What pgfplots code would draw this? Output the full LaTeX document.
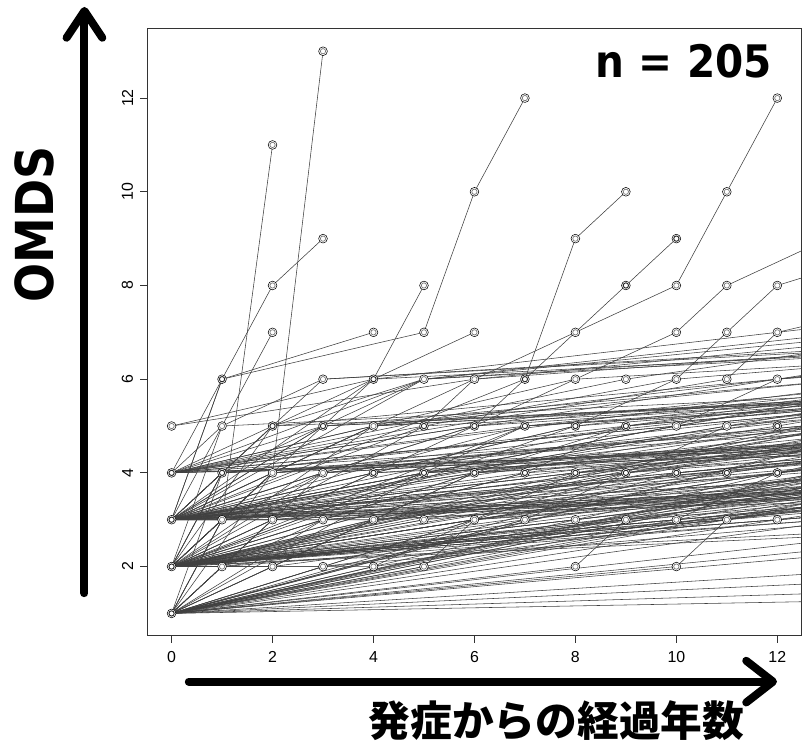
\documentclass[border=0pt]{standalone}
\usepackage{fontspec}
\setmainfont{Liberation Sans}
\newfontfamily\dvs{DejaVu Sans}
\newfontfamily\cjk{Noto Sans CJK JP}
\usepackage{graphicx}
\usepackage{pgfplots}
\pgfplotsset{compat=1.18}
\newcommand{\sj}[1]{\addplot[ln] coordinates {#1};}
\begin{document}
\begin{tikzpicture}
\begin{scope}[x=0.75pt,y=-0.75pt,shift={(-111.225pt,480pt)}]
\useasboundingbox (0,0) rectangle (802,747);
\end{scope}
\begin{axis}[
  at={(0,0)}, anchor=south west,
  scale only axis, width=493.8pt, height=458.3pt,
  xmin=-0.48, xmax=12.48, ymin=0.52, ymax=13.48,
  xtick={0,2,...,12}, ytick={2,4,...,12},
  tick align=outside, xtick pos=left, ytick pos=left,
  major tick length=5.25pt,
  axis line style={black!80, line width=0.7pt},
  every tick/.style={black!80, line width=0.6pt},
  ticklabel style={font=\fontsize{12}{14}\selectfont, text=black},
  /pgf/number format/assume math mode=true,
  yticklabel style={rotate=90, anchor=south},
  yticklabel shift=2pt, xticklabel shift=3pt,
  ln/.style={black!75, line width=0.42pt},
]
% ---- subjects starting at OMDS 1
\sj{(0,1)(50,2)}\sj{(0,1)(30,2)}\sj{(0,1)(20,2)}\sj{(0,1)(15,2)}\sj{(0,1)(21,3)}
\sj{(0,1)(19,3)}\sj{(0,1)(25,4)}\sj{(0,1)(20,4)}\sj{(0,1)(24,5)}\sj{(0,1)(16,4)}
\sj{(0,1)(22,6)}\sj{(0,1)(18,5)}\sj{(0,1)(28,7)}\sj{(0,1)(14,4)}\sj{(0,1)(20,6)}
\sj{(0,1)(25,8)}\sj{(0,1)(15,4)}\sj{(0,1)(18,6)}\sj{(0,1)(13,4)}\sj{(0,1)(22,5)}
\sj{(0,1)(17,5)}\sj{(0,1)(30,8)}\sj{(0,1)(26,6)}
\sj{(0,1)(1,2)(16,4)}\sj{(0,1)(1,3)(20,5)}\sj{(0,1)(1,4)(15,5)}\sj{(0,1)(2,3)(22,5)}
\sj{(0,1)(2,4)(19,6)}\sj{(0,1)(3,3)(25,5)}\sj{(0,1)(3,4)(20,6)}\sj{(0,1)(4,3)(24,4)}
\sj{(0,1)(5,4)(21,6)}\sj{(0,1)(6,3)(17,4)}\sj{(0,1)(10,4)(20,5)}\sj{(0,1)(10,2)(11,3)(20,5)}
\sj{(0,1)(8,2)(9,3)(22,5)}\sj{(0,1)(5,2)(6,3)(20,5)}\sj{(0,1)(4,2)(18,4)}\sj{(0,1)(3,2)(25,4)}
\sj{(0,1)(2,2)(6,4)(20,5)}\sj{(0,1)(1,2)(4,3)(24,5)}\sj{(0,1)(7,3)(23,5)}\sj{(0,1)(9,4)(22,6)}
\sj{(0,1)(1,3)(3,4)(18,5)}\sj{(0,1)(2,3)(5,4)(21,5)}
\sj{(0,1)(1,3)(2,4)(20,5)}\sj{(0,1)(4,3)(6,4)(23,5)}\sj{(0,1)(7,3)(9,4)(21,5)}
% ---- subjects starting at OMDS 2
\sj{(0,2)(20,3)}\sj{(0,2)(18,3)}\sj{(0,2)(20,4)}\sj{(0,2)(22,4)}\sj{(0,2)(18,4)}
\sj{(0,2)(26,5)}\sj{(0,2)(20,5)}\sj{(0,2)(15,4)}\sj{(0,2)(24,6)}\sj{(0,2)(16,5)}
\sj{(0,2)(30,7)}\sj{(0,2)(19,6)}\sj{(0,2)(22,7)}\sj{(0,2)(17,6)}\sj{(0,2)(25,8)}
\sj{(0,2)(24,5)}\sj{(0,2)(28,5)}\sj{(0,2)(32,5)}\sj{(0,2)(16,4)}\sj{(0,2)(14,4)}
\sj{(0,2)(36,5)}\sj{(0,2)(21,4)}\sj{(0,2)(30,5)}\sj{(0,2)(26,4)}\sj{(0,2)(24,4)}
\sj{(0,2)(1,3)(20,4)}\sj{(0,2)(1,3)(16,5)}\sj{(0,2)(1,4)(22,5)}\sj{(0,2)(1,4)(18,6)}
\sj{(0,2)(1,5)(3,6)(19,7)}\sj{(0,2)(2,3)(21,4)}\sj{(0,2)(2,4)(24,6)}\sj{(0,2)(2,4)(3,13)}
\sj{(0,2)(1,3)(2,11)}\sj{(0,2)(2,5)(5,6)(20,7)}\sj{(0,2)(3,3)(17,4)}\sj{(0,2)(3,4)(22,6)}
\sj{(0,2)(3,5)(4,6)(5,8)}\sj{(0,2)(4,3)(20,5)}\sj{(0,2)(4,4)(18,5)}\sj{(0,2)(4,5)(23,7)}
\sj{(0,2)(5,3)(26,5)}\sj{(0,2)(5,4)(19,5)}\sj{(0,2)(5,5)(21,6)}\sj{(0,2)(6,3)(20,4)}
\sj{(0,2)(6,4)(24,6)}\sj{(0,2)(6,5)(7,6)(8,9)(9,10)}\sj{(0,2)(7,4)(20,6)}\sj{(0,2)(7,5)(22,6)}
\sj{(0,2)(8,3)(23,5)}\sj{(0,2)(8,4)(18,5)}\sj{(0,2)(8,5)(24,7)}\sj{(0,2)(9,4)(19,6)}
\sj{(0,2)(9,5)(20,6)}\sj{(0,2)(10,3)(22,4)}\sj{(0,2)(10,4)(21,5)}\sj{(0,2)(11,4)(25,6)}
\sj{(0,2)(12,4)(20,5)}\sj{(0,2)(12,3)(24,4)}\sj{(0,2)(2,2)(16,4)}\sj{(0,2)(1,2)(3,3)(20,4)}
\sj{(0,2)(9,3)(22,4)}\sj{(0,2)(11,3)(23,5)}\sj{(0,2)(1,2)(25,4)}\sj{(0,2)(3,2)(18,4)}
\sj{(0,2)(4,2)(6,3)(22,5)}
\sj{(0,2)(1,4)(3,5)(22,6)}\sj{(0,2)(2,4)(4,5)(21,6)}\sj{(0,2)(5,4)(7,5)(23,6)}
\sj{(0,2)(7,4)(9,5)(20,6)}\sj{(0,2)(9,4)(11,5)(22,6)}\sj{(0,2)(6,3)(8,4)(24,5)}
\sj{(0,2)(10,3)(12,4)(22,5)}\sj{(0,2)(11,3)(19,4)}
% ---- subjects starting at OMDS 3
\sj{(0,3)(28,4)}\sj{(0,3)(22,4)}\sj{(0,3)(18,4)}\sj{(0,3)(25,5)}\sj{(0,3)(20,5)}
\sj{(0,3)(16,5)}\sj{(0,3)(24,6)}\sj{(0,3)(19,6)}\sj{(0,3)(30,7)}\sj{(0,3)(22,7)}
\sj{(0,3)(17,6)}\sj{(0,3)(25,8)}
\sj{(0,3)(1,4)(20,5)}\sj{(0,3)(1,4)(17,6)}\sj{(0,3)(1,5)(2,7)}\sj{(0,3)(1,6)(2,8)(3,9)}
\sj{(0,3)(1,6)(4,7)}\sj{(0,3)(2,4)(23,6)}\sj{(0,3)(2,5)(4,6)(22,7)}\sj{(0,3)(3,4)(19,5)}
\sj{(0,3)(3,5)(21,6)}\sj{(0,3)(4,4)(24,5)}\sj{(0,3)(4,5)(20,6)}\sj{(0,3)(4,6)(6,7)}
\sj{(0,3)(5,4)(18,5)}\sj{(0,3)(5,5)(6,6)(8,7)(10,8)(11,10)(12,12)}\sj{(0,3)(6,4)(22,6)}
\sj{(0,3)(6,5)(20,6)}\sj{(0,3)(7,4)(21,5)}\sj{(0,3)(7,5)(25,7)}\sj{(0,3)(8,4)(19,6)}
\sj{(0,3)(8,5)(20,6)}\sj{(0,3)(9,4)(24,6)}\sj{(0,3)(9,5)(22,7)}\sj{(0,3)(10,4)(20,5)}
\sj{(0,3)(10,5)(21,7)}\sj{(0,3)(11,5)(19,6)}\sj{(0,3)(12,5)(23,7)}\sj{(0,3)(1,3)(22,5)}
\sj{(0,3)(2,3)(20,4)}\sj{(0,3)(6,6)(19,7)}\sj{(0,3)(5,6)(24,8)}\sj{(0,3)(7,6)(8,7)(9,8)(10,9)}
\sj{(0,3)(3,6)(20,7)}\sj{(0,3)(11,4)(25,6)}
\sj{(0,3)(35,4)}\sj{(0,3)(26,4)}\sj{(0,3)(20,4)}\sj{(0,3)(15,4)}\sj{(0,3)(40,5)}
\sj{(0,3)(30,5)}\sj{(0,3)(32,6)}\sj{(0,3)(27,6)}\sj{(0,3)(21,5)}
\sj{(0,3)(2,5)(24,6)}\sj{(0,3)(3,5)(5,6)(22,7)}\sj{(0,3)(6,5)(8,6)(24,7)}
\sj{(0,3)(8,5)(10,6)(21,7)}\sj{(0,3)(10,5)(12,6)(25,7)}\sj{(0,3)(4,3)(22,4)}
% ---- subjects starting at OMDS 4 and 5
\sj{(0,4)(25,5)}\sj{(0,4)(20,6)}\sj{(0,4)(30,7)}\sj{(0,4)(22,7)}
\sj{(0,4)(1,6)(5,7)(6,10)(7,12)}\sj{(0,4)(1,5)(20,6)}\sj{(0,4)(2,5)(22,7)}\sj{(0,4)(3,5)(24,7)}
\sj{(0,4)(4,5)(20,7)}\sj{(0,4)(5,6)(22,8)}\sj{(0,4)(6,5)(25,7)}\sj{(0,4)(7,5)(20,6)}
\sj{(0,4)(8,6)(10,7)(11,8)(15,10)}\sj{(0,4)(9,6)(22,8)}\sj{(0,4)(10,6)(11,7)(12,8)(18,10)}
\sj{(0,4)(11,6)(12,7)(20,9)}\sj{(0,4)(12,6)(24,8)}
\sj{(0,4)(35,5)}\sj{(0,4)(28,6)}\sj{(0,4)(26,5)}
\sj{(0,5)(4,6)(20,8)}\sj{(0,5)(6,6)(25,8)}
% ---- observation circles
\addplot[only marks, mark=*, mark size=3.3pt, mark options={draw=none, fill=white}] coordinates {
(0,1)(0,2)(0,3)(0,4)(0,5)
(1,2)(1,3)(1,4)(1,5)(1,6)
(2,2)(2,3)(2,4)(2,5)(2,7)(2,8)(2,11)
(3,2)(3,3)(3,4)(3,5)(3,6)(3,9)(3,13)
(4,2)(4,3)(4,4)(4,5)(4,6)(4,7)
(5,2)(5,3)(5,4)(5,5)(5,6)(5,7)(5,8)
(6,3)(6,4)(6,5)(6,6)(6,7)(6,10)
(7,3)(7,4)(7,5)(7,6)(7,12)
(8,2)(8,3)(8,4)(8,5)(8,6)(8,7)(8,9)
(9,3)(9,4)(9,5)(9,6)(9,8)(9,10)
(10,2)(10,3)(10,4)(10,5)(10,6)(10,7)(10,8)(10,9)
(11,3)(11,4)(11,5)(11,6)(11,7)(11,8)(11,10)
(12,3)(12,4)(12,5)(12,6)(12,7)(12,8)(12,12)};
\addplot[only marks, mark=o, mark size=2pt, mark options={draw=black!55, line width=0.5pt}] coordinates {
(0,5)
(1,2)(1,3)(1,5)
(2,2)(2,3)(2,4)(2,7)(2,8)(2,11)
(3,2)(3,3)(3,4)(3,6)(3,9)(3,13)
(4,2)(4,3)(4,5)(4,7)
(5,2)(5,3)(5,6)(5,7)(5,8)
(6,3)(6,6)(6,7)(6,10)
(7,3)(7,12)
(8,2)(8,3)(8,6)(8,7)(8,9)
(9,3)(9,6)(9,10)
(10,2)(10,3)(10,5)(10,6)(10,7)(10,8)
(11,3)(11,5)(11,6)(11,7)(11,8)(11,10)
(12,3)(12,6)(12,7)(12,8)(12,12)};
\addplot[only marks, mark=o, mark size=2pt, mark options={draw=black!85, line width=0.7pt}] coordinates {
(0,1)(0,2)(0,3)(0,4)(1,4)(1,6)(2,5)(3,5)(4,4)(4,6)(5,5)(6,5)(7,5)(7,6)
(8,5)(9,5)(9,8)(10,9)(12,5)(7,4)(8,4)(10,4)(11,4)(12,4)(5,4)(6,4)(9,4)};
\end{axis}
\begin{scope}[x=0.75pt,y=-0.75pt,shift={(-111.225pt,480pt)}]
\draw[line width=6pt, line cap=round, line join=round] (85,597) -- (85,12);
\draw[line width=6pt, line cap=round, line join=round] (67,38) -- (85,11) -- (103,38);
\draw[line width=6pt, line cap=round, line join=round] (190,686) -- (776,686);
\draw[line width=6pt, line cap=round, line join=round] (751,665) -- (778,686) -- (751,707);
\node[rotate=90, inner sep=0pt] at (35,226) {\scalebox{0.878}[1]{\dvs\bfseries\fontsize{39.5}{40}\selectfont OMDS}};
\node[anchor=base east, inner sep=0pt] at (777,78.5) {\scalebox{0.906}[1]{\dvs\bfseries\fontsize{33.8}{34}\selectfont n = 205}};
\node[inner sep=0pt] at (560,725) {\cjk\bfseries\fontsize{31.5}{32}\selectfont 発症からの経過年数};
\end{scope}
\end{tikzpicture}
\end{document}
